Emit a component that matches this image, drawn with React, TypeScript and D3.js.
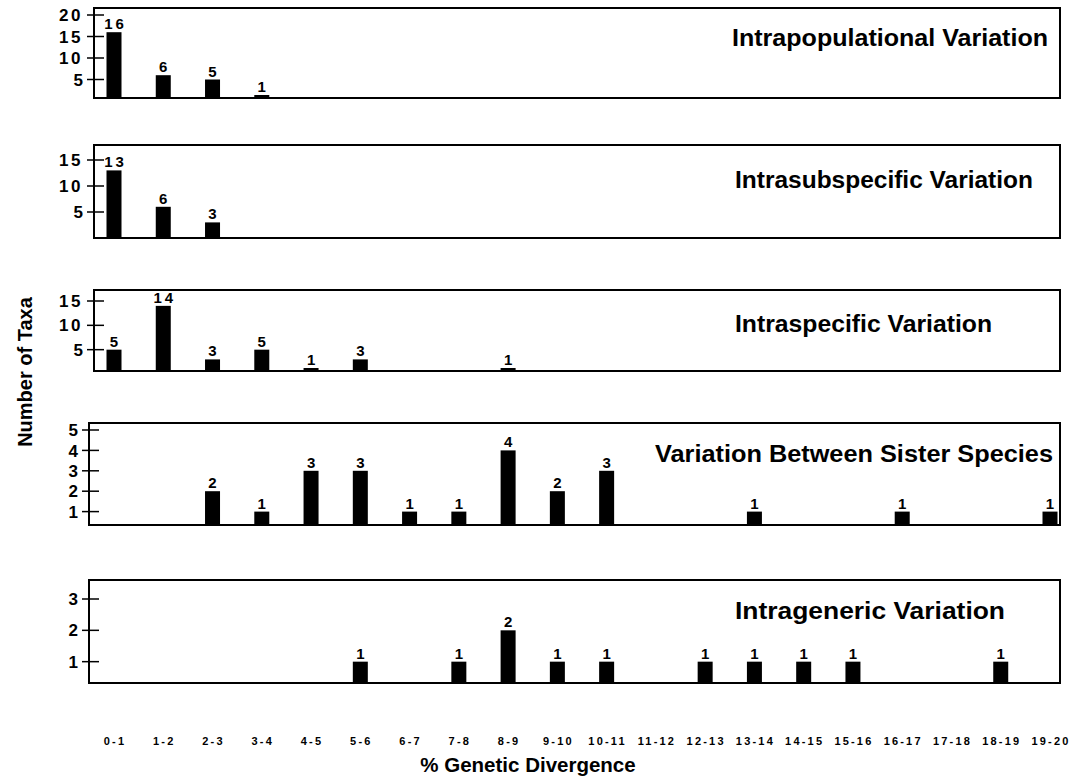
import * as d3 from "d3";

const categories = [
  "0-1", "1-2", "2-3", "3-4", "4-5", "5-6", "6-7", "7-8", "8-9", "9-10",
  "10-11", "11-12", "12-13", "13-14", "14-15", "15-16", "16-17", "17-18", "18-19", "19-20",
];

const intrapopulational = [16, 6, 5, 1, 0, 0, 0, 0, 0, 0, 0, 0, 0, 0, 0, 0, 0, 0, 0, 0];
const intrasubspecific = [13, 6, 3, 0, 0, 0, 0, 0, 0, 0, 0, 0, 0, 0, 0, 0, 0, 0, 0, 0];
const intraspecific = [5, 14, 3, 5, 1, 3, 0, 0, 1, 0, 0, 0, 0, 0, 0, 0, 0, 0, 0, 0];
const sisterSpecies = [0, 0, 2, 1, 3, 3, 1, 1, 4, 2, 3, 0, 0, 1, 0, 0, 1, 0, 0, 1];
const intrageneric = [0, 0, 0, 0, 0, 1, 0, 1, 2, 1, 1, 0, 1, 1, 1, 1, 0, 0, 1, 0];

const titles = [
  "Intrapopulational Variation",
  "Intrasubspecific Variation",
  "Intraspecific Variation",
  "Variation Between Sister Species",
  "Intrageneric Variation",
];
const yTicks = [[5, 10, 15, 20], [5, 10, 15], [5, 10, 15], [1, 2, 3, 4, 5], [1, 2, 3]];
const yMax = [20, 15, 15, 5, 3];
const series = [intrapopulational, intrasubspecific, intraspecific, sisterSpecies, intrageneric];

// layout of each panel box (pixels)
const layout = [
  { top: 8, bottom: 98, left: 94, y0: 101, y1: 15, tx: 732, ty: 46, tw: 316 },
  { top: 145, bottom: 238, left: 94, y0: 238, y1: 160, tx: 735, ty: 188, tw: 298 },
  { top: 290, bottom: 371, left: 94, y0: 374, y1: 301, tx: 735, ty: 332, tw: 257 },
  { top: 423, bottom: 525, left: 89, y0: 532, y1: 430, tx: 655, ty: 462, tw: 398 },
  { top: 580, bottom: 683, left: 89, y0: 693, y1: 599, tx: 735, ty: 619, tw: 270 },
];

const W = 1078;
const H = 780;
const RIGHT = 1060;
const FONT = "'Liberation Sans', Arial, Helvetica, sans-serif";
const barW = 15;

export default function App() {
  const x = d3.scalePoint<string>(categories, [114, 1050]);

  return (
    <svg width={W} height={H} style={{ position: "absolute", left: 0, top: 0, background: "#fff" }}
      fontFamily={FONT} fontWeight="bold">
      {series.map((vals, p) => {
        const L = layout[p];
        const y = d3.scaleLinear([0, yMax[p]], [L.y0, L.y1]);
        return (
          <g key={p}>
            <rect x={L.left} y={L.top} width={RIGHT - L.left} height={L.bottom - L.top}
              fill="none" stroke="#000" strokeWidth={2} />
            {yTicks[p].map((t) => (
              <g key={t}>
                <line x1={L.left - 7} x2={L.left + 10} y1={y(t)} y2={y(t)} stroke="#000" strokeWidth={1.5} />
                <text x={L.left - 11} y={y(t)} dy="0.36em" textAnchor="end" fontSize={17}
                  letterSpacing={t >= 10 ? 2.5 : 0}>{t}</text>
              </g>
            ))}
            {vals.map((v, i) => {
              if (!v) return null;
              const cx = x(categories[i])!;
              const top = Math.min(y(v), L.bottom - 3);
              return (
                <g key={i}>
                  <rect x={cx - barW / 2} y={top} width={barW} height={L.bottom - top} fill="#000" />
                  <text x={cx + (v >= 10 ? 1.5 : 0)} y={top - 3} textAnchor="middle" fontSize={15}
                    letterSpacing={v >= 10 ? 3 : 0}>{v}</text>
                </g>
              );
            })}
            <text x={L.tx} y={L.ty} fontSize={23.5} textLength={L.tw} lengthAdjust="spacingAndGlyphs">{titles[p]}</text>
          </g>
        );
      })}
      {categories.map((c) => (
        <text key={c} x={x(c)! + 1} y={745} textAnchor="middle" fontSize={11} letterSpacing={2.2}>
          {c}
        </text>
      ))}
      <text x={528} y={772} textAnchor="middle" fontSize={20.5}>% Genetic Divergence</text>
      <text transform="translate(32,372) rotate(-90)" textAnchor="middle" fontSize={20}>Number of Taxa</text>
    </svg>
  );
}
